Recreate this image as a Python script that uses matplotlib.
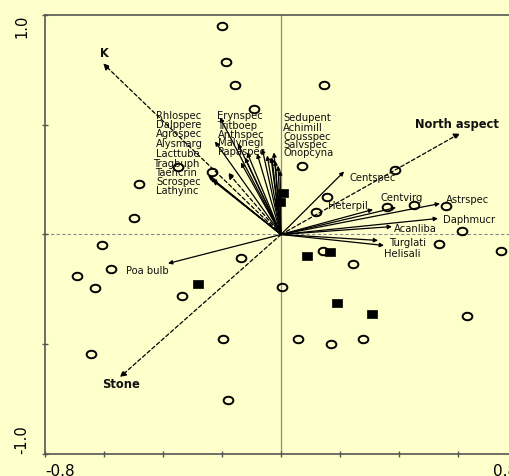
import numpy as np
import matplotlib
matplotlib.use('Agg')
import matplotlib.pyplot as plt
from matplotlib.path import Path
from matplotlib.transforms import Affine2D

# ---------------- data ----------------
open_x = [-0.200, -0.186, -0.156, -0.092, 0.146, 0.070, 0.386, 0.157, 0.119, 0.360,
          0.452, 0.558, 0.614, 0.536, 0.746, 0.143, 0.243, 0.004, 0.632, 0.057,
          0.169, 0.277, -0.181, -0.196, -0.643, -0.335, -0.137, -0.576, -0.693, -0.629,
          -0.608, -0.498, -0.481, -0.348, -0.233]
open_y = [0.948, 0.788, 0.683, 0.574, 0.679, 0.314, 0.295, 0.170, 0.103, 0.124,
          0.135, 0.129, 0.017, -0.042, -0.077, -0.073, -0.133, -0.240, -0.370, -0.475,
          -0.500, -0.478, -0.752, -0.478, -0.544, -0.278, -0.108, -0.155, -0.191, -0.246,
          -0.046, 0.073, 0.232, 0.307, 0.284]

filled_x = [0.008, -0.003, 0.089, 0.166, 0.190, 0.307, -0.282]
filled_y = [0.188, 0.147, -0.100, -0.081, -0.314, -0.360, -0.225]

species = ['Erynspec', 'Tritboep', 'Anthspec', 'Malvnegl', 'Papaspec', 'Alysmarg',
           'Taencrin', 'Tragbuph', 'Scrospec', 'Lathyinc', 'Rhlospec', 'Dalppere',
           'Agrospec', 'Lacttube', 'Sedupent', 'Achimill', 'Cousspec', 'Salvspec',
           'Onopcyna', 'Centspec', 'Heterpil', 'Centvirg', 'Astrspec', 'Daphmucr',
           'Acanliba', 'Turglati', 'Helisali', 'Poa bulb']
species_x = [-0.207, -0.146, -0.122, -0.081, -0.064, -0.224, -0.247, -0.234, -0.231, -0.241,
             -0.136, -0.115, -0.047, -0.031, -0.020, -0.034, -0.010, -0.003, -0.024, 0.214,
             0.312, 0.390, 0.539, 0.532, 0.376, 0.349, 0.329, -0.383]
species_y = [0.533, 0.415, 0.351, 0.369, 0.392, 0.424, 0.269, 0.255, 0.246, 0.260,
             0.328, 0.374, 0.360, 0.351, 0.337, 0.351, 0.314, 0.292, 0.374, 0.287,
             0.114, 0.123, 0.141, 0.073, 0.036, -0.050, -0.027, -0.132]

env_names = ['K', 'North aspect', 'Stone', '']
env_x = [-0.603, 0.607, -0.546, -0.180]
env_y = [0.779, 0.461, -0.650, 0.282]

x_ticks = [-0.8, -0.6, -0.4, -0.2, 0.0, 0.2, 0.4, 0.6, 0.8]
x_tick_labels = ['-0.8', '', '', '', '', '', '', '', '0.8']
y_ticks = [-1.0, -0.5, 0.0, 0.5, 1.0]
y_tick_labels = ['-1.0', '', '', '', '1.0']

# ---------------- layout (label placement) ----------------
species_label_pos = {
    'Rhlospec': (-0.424, 0.538), 'Dalppere': (-0.424, 0.497), 'Agrospec': (-0.424, 0.456),
    'Alysmarg': (-0.424, 0.411), 'Lacttube': (-0.424, 0.368), 'Tragbuph': (-0.434, 0.322),
    'Taencrin': (-0.427, 0.278), 'Scrospec': (-0.424, 0.238), 'Lathyinc': (-0.424, 0.200),
    'Erynspec': (-0.217, 0.541), 'Tritboep': (-0.217, 0.493), 'Anthspec': (-0.214, 0.454),
    'Malvnegl': (-0.214, 0.415), 'Papaspec': (-0.214, 0.375),
    'Sedupent': (0.008, 0.532), 'Achimill': (0.008, 0.486), 'Cousspec': (0.008, 0.446),
    'Salvspec': (0.008, 0.409), 'Onopcyna': (0.008, 0.370),
    'Centspec': (0.231, 0.256), 'Centvirg': (0.336, 0.167), 'Heterpil': (0.160, 0.128),
    'Astrspec': (0.558, 0.159), 'Daphmucr': (0.548, 0.067), 'Acanliba': (0.383, 0.026),
    'Turglati': (0.366, -0.040), 'Helisali': (0.349, -0.088), 'Poa bulb': (-0.525, -0.167),
}
env_label_pos = {'K': (-0.600, 0.825), 'North aspect': (0.596, 0.501), 'Stone': (-0.544, -0.683)}

bg = '#ffffcc'
axc = '#555555'

fig = plt.figure(figsize=(5.10, 4.76), dpi=100, facecolor=bg)
ax = fig.add_axes([45 / 510, 22 / 476, 472 / 510, 439 / 476])
ax.set_facecolor(bg)
ax.set_xlim(-0.8, 0.8)
ax.set_ylim(-1.0, 1.0)

for s in ax.spines.values():
    s.set_color(axc)
    s.set_linewidth(1.2)

# zero lines
ax.axvline(0, color='#8a8a8a', lw=0.9, zorder=1)
ax.axhline(0, color='#8a8a8a', lw=0.8, ls=(0, (3, 2)), zorder=1)

# species arrows
for name, x, y in zip(species, species_x, species_y):
    ax.annotate('', xy=(x, y), xytext=(0, 0),
                arrowprops=dict(arrowstyle='-|>', color='black', lw=0.9,
                                mutation_scale=6, shrinkA=0, shrinkB=0),
                zorder=3)
    lx, ly = species_label_pos[name]
    ax.text(lx, ly, name, fontsize=7.2, family='DejaVu Sans', ha='left', va='center',
            color='#111111', zorder=5)

# environmental arrows (dashed)
for name, x, y in zip(env_names, env_x, env_y):
    ax.annotate('', xy=(x, y), xytext=(0, 0),
                arrowprops=dict(arrowstyle='-|>', color='black', lw=0.9, ls=(0, (3, 2)),
                                mutation_scale=9, shrinkA=0, shrinkB=0),
                zorder=3)
    if name:
        lx, ly = env_label_pos[name]
        ax.text(lx, ly, name, fontsize=8.3, family='DejaVu Sans', fontweight='bold',
                ha='center', va='center', color='#111111', zorder=5)

# sample markers
ell = Path.unit_circle().transformed(Affine2D().scale(1.3, 1.0))
ax.plot(open_x, open_y, ls='none', marker=ell, ms=7.0, mfc='none', mec='black',
        mew=1.4, zorder=4)
rect = Path.unit_rectangle().transformed(Affine2D().translate(-0.5, -0.5).scale(1.15, 1.0))
ax.plot(filled_x, filled_y, ls='none', marker=rect, ms=6.5, mfc='black', mec='black',
        mew=0.5, zorder=4)

# ticks
ax.set_xticks(x_ticks)
ax.set_xticklabels(x_tick_labels, fontsize=11, family='DejaVu Sans')
ax.set_yticks(y_ticks)
ax.set_yticklabels(y_tick_labels, fontsize=10.5, family='DejaVu Sans', rotation=90)
ax.tick_params(direction='inout', length=5, width=1.0, color=axc, labelcolor='black')
ax.tick_params(axis='x', pad=5)
ax.tick_params(axis='y', pad=9)
xl = ax.get_xticklabels()
xl[0].set_ha('left')
xl[-1].set_ha('right')
yl = ax.get_yticklabels()
yl[0].set_va('bottom')
yl[-1].set_va('top')

fig.savefig('out.png', dpi=100, facecolor=bg)
